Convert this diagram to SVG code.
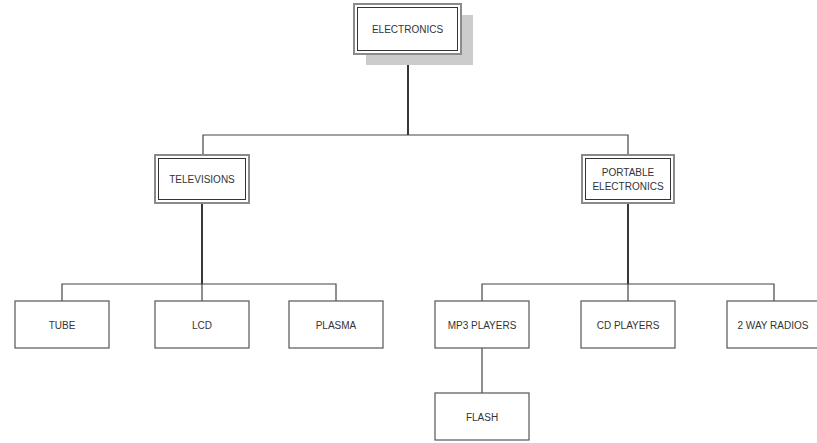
<svg xmlns="http://www.w3.org/2000/svg" width="817" height="443" viewBox="0 0 817 443">
<style>
.bg{fill:#ffffff}
.shadow{fill:#cccccc}
.outer{fill:#ffffff;stroke:#8a8a8a;stroke-width:2}
.inner{fill:none;stroke:#333333;stroke-width:1}
.box{fill:#ffffff;stroke:#555555;stroke-width:1.2}
.lbl{font-family:"Liberation Sans",Arial,sans-serif;font-size:10px;fill:#333333;text-anchor:middle;dominant-baseline:central}
.conn{fill:none;stroke:#444444;stroke-width:1.2}
.trunk{fill:none;stroke:#222222;stroke-width:1.8}
</style>
<rect class="bg" x="0" y="0" width="817" height="443"/>
<g id="connectors">
<path class="trunk" d="M408 54 V135"/>
<path class="conn" d="M203 155 V135 H628 V155"/>
<path class="trunk" d="M202 203 V284"/>
<path class="conn" d="M62 301 V284 H336 V301 M202 284 V301"/>
<path class="trunk" d="M628 203 V284"/>
<path class="conn" d="M482 301 V284 H774 V301 M628 284 V301"/>
<path class="conn" d="M482 348 V393"/>
</g>
<g id="electronics">
<rect class="shadow" x="366" y="15" width="107" height="50"/>
<rect class="outer" x="354" y="4" width="107" height="50"/>
<rect class="inner" x="357.5" y="7.5" width="100" height="43"/>
<text class="lbl" x="407.5" y="29">ELECTRONICS</text>
</g>
<g id="televisions">
<rect class="outer" x="155" y="155" width="94" height="48"/>
<rect class="inner" x="158.5" y="158.5" width="87" height="41"/>
<text class="lbl" x="202" y="179">TELEVISIONS</text>
</g>
<g id="portable">
<rect class="outer" x="582" y="155" width="92" height="48"/>
<rect class="inner" x="585.5" y="158.5" width="85" height="41"/>
<text class="lbl" x="628" y="172">PORTABLE</text>
<text class="lbl" x="628" y="186">ELECTRONICS</text>
</g>
<g id="tube">
<rect class="box" x="15" y="301" width="94" height="47"/>
<text class="lbl" x="62" y="325">TUBE</text>
</g>
<g id="lcd">
<rect class="box" x="155" y="301" width="94" height="47"/>
<text class="lbl" x="202" y="325">LCD</text>
</g>
<g id="plasma">
<rect class="box" x="289" y="301" width="94" height="47"/>
<text class="lbl" x="336" y="325">PLASMA</text>
</g>
<g id="mp3">
<rect class="box" x="435" y="301" width="94" height="47"/>
<text class="lbl" x="482" y="325">MP3 PLAYERS</text>
</g>
<g id="cd">
<rect class="box" x="581" y="301" width="94" height="47"/>
<text class="lbl" x="628" y="325">CD PLAYERS</text>
</g>
<g id="radios">
<rect class="box" x="727" y="301" width="94" height="47"/>
<text class="lbl" x="773" y="325">2 WAY RADIOS</text>
</g>
<g id="flash">
<rect class="box" x="435" y="393" width="94" height="47"/>
<text class="lbl" x="482" y="417">FLASH</text>
</g>
</svg>
